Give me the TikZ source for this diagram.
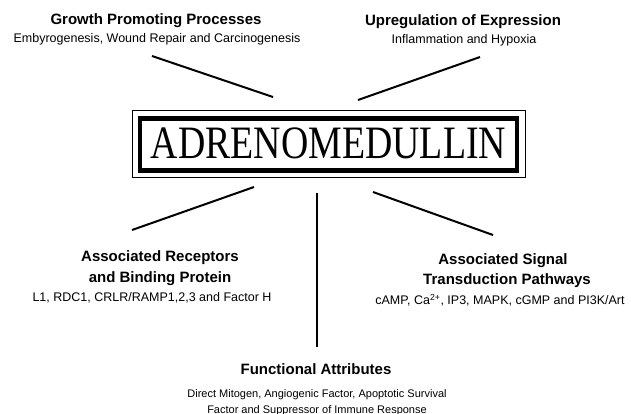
\documentclass[tikz,border=0pt]{standalone}
\usepackage{fontspec}
\setmainfont{Liberation Sans}
\newfontfamily\admfont{Liberation Serif}
\begin{document}
\begin{tikzpicture}[x=1pt,y=-1pt,
  head/.style={font=\fontsize{15}{18}\selectfont\bfseries, inner sep=0pt, anchor=base},
  sub/.style={font=\fontsize{12.5}{15}\selectfont, inner sep=0pt, anchor=base},
  subsmall/.style={font=\fontsize{11}{13}\selectfont, inner sep=0pt, anchor=base},
  spoke/.style={line width=2pt},
  thickframe/.style={draw, line width=4.5pt, inner sep=0pt},
  thinframe/.style={draw, line width=1pt, inner sep=0pt}]
\useasboundingbox (0,0) rectangle (631,413);
% central box
\node[thickframe, minimum width=377pt, minimum height=52pt] (admbox) at (328.5,144.5) {};
\node[thinframe, minimum width=393pt, minimum height=67pt] (admouter) at (328.5,144) {};
\node[inner sep=0pt, anchor=base, font=\admfont\fontsize{43}{43}\selectfont, xscale=0.88, yscale=1.08] (adm) at (328.5,158) {ADRENOMEDULLIN};
% labels
\node[head] (h1) at (156,24) {Growth Promoting Processes};
\node[sub] (s1) at (157,42.5) {Embyrogenesis, Wound Repair and Carcinogenesis};
\node[head] (h2) at (463,25.5) {Upregulation of Expression};
\node[sub] (s2) at (464,43.5) {Inflammation and Hypoxia};
\node[head] (h3a) at (160,261) {Associated Receptors};
\node[head] (h3b) at (160,282.5) {and Binding Protein};
\node[sub] (s3) at (152,301) {L1, RDC1, CRLR/RAMP1,2,3 and Factor H};
\node[head] (h4a) at (503,264) {Associated Signal};
\node[head] (h4b) at (507,284) {Transduction Pathways};
\node[sub] (s4) at (500,304.5) {cAMP, Ca\textsuperscript{2+}, IP3, MAPK, cGMP and PI3K/Art};
\node[head] (h5) at (316,374.5) {Functional Attributes};
\node[subsmall] (s5a) at (317,397.5) {Direct Mitogen, Angiogenic Factor, Apoptotic Survival};
\node[subsmall] (s5b) at (317,413) {Factor and Suppressor of Immune Response};
% spokes
\coordinate (tla) at (152,56);  \coordinate (tlb) at (273,97);
\coordinate (tra) at (358,100); \coordinate (trb) at (480,57);
\coordinate (lla) at (132,230); \coordinate (llb) at (254,187);
\coordinate (va) at (317,193);  \coordinate (vb) at (317,347);
\coordinate (lra) at (373,192); \coordinate (lrb) at (493,235);
\draw[spoke] (tla) -- (tlb);
\draw[spoke] (tra) -- (trb);
\draw[spoke] (lla) -- (llb);
\draw[spoke] (va) -- (vb);
\draw[spoke] (lra) -- (lrb);
\end{tikzpicture}
\end{document}
